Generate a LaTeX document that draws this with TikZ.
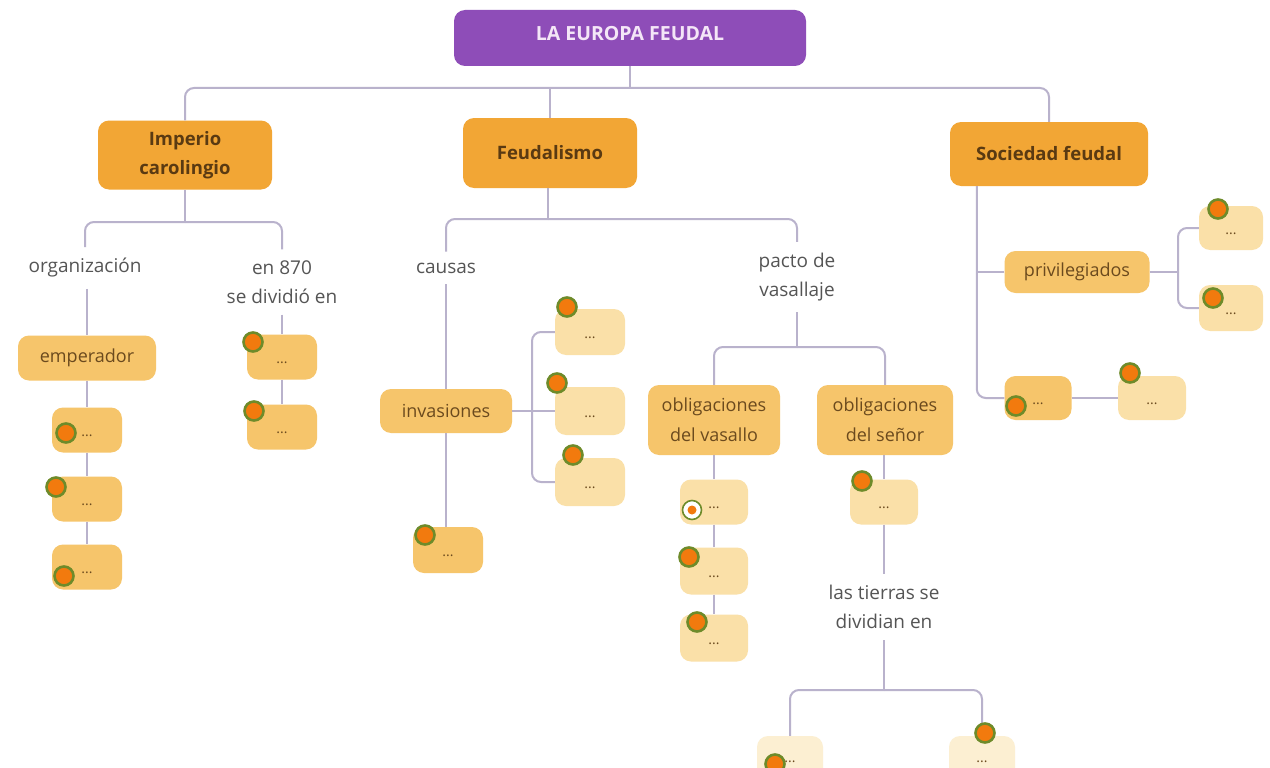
\documentclass[tikz,border=0pt]{standalone}
\usepackage{fontspec}
\setmainfont{Open Sans}
\usetikzlibrary{positioning}
\definecolor{purp}{HTML}{8E4DB8}
\definecolor{titletxt}{HTML}{F4E6F7}
\definecolor{strong}{HTML}{F2A635}
\definecolor{medium}{HTML}{F6C56B}
\definecolor{pale}{HTML}{FAE0A8}
\definecolor{vpale}{HTML}{FCEFD2}
\definecolor{brown}{HTML}{5A3A12}
\definecolor{mbrown}{HTML}{6B4A1E}
\definecolor{lbl}{HTML}{555555}
\definecolor{conn}{HTML}{B9B2CC}
\definecolor{dotfill}{HTML}{F27A0E}
\definecolor{dotline}{HTML}{6E8B2A}
\newcommand{\dd}{\raisebox{-6pt}[0pt][0pt]{...}}
\tikzset{
  x=1pt,y=-1pt,
  box/.style={rounded corners=11pt, inner sep=2pt, align=center, text=mbrown,
     font=\fontsize{18}{30}\selectfont},
  mainbox/.style={box, fill=strong, text=brown, font=\bfseries\fontsize{18.5}{29}\selectfont},
  midbox/.style={box, fill=medium},
  palebox/.style={box, fill=pale},
  vpalebox/.style={box, fill=vpale},
  dotbox/.style={minimum width=70pt, minimum height=45pt, font=\fontsize{14}{14}\selectfont, text=mbrown},
  lab/.style={align=center, text=lbl, inner xsep=4pt, inner ysep=11pt,
     font=\fontsize{19}{29}\selectfont},
  cn/.style={draw=conn, line width=2pt},
  rc/.style={cn, rounded corners=9pt},
  bullet/.style={circle, fill=dotfill, draw=dotline, line width=2.6pt, minimum size=19pt, inner sep=0pt},
}
\begin{document}
\begin{tikzpicture}
\useasboundingbox (0,0) rectangle (1270,768);
\fill[white] (0,0) rectangle (1270,768);

% title
\node[box, fill=purp, text=titletxt, minimum width=352pt, minimum height=56pt,
  font=\bfseries\fontsize{19.5}{22}\selectfont] (title) at (630,38) {\raisebox{-2pt}[0pt][0pt]{LA EUROPA FEUDAL}};

% level 1
\node[mainbox, minimum width=174pt, minimum height=69pt] (imp) at (185,155) {Imperio\\carolingio};
\node[mainbox, minimum width=174pt, minimum height=70pt] (feu) at (550,153) {Feudalismo};
\node[mainbox, minimum width=198pt, minimum height=64pt] (soc) at (1049,154) {Sociedad feudal};

\coordinate (bus) at (630,88);
\draw[cn] (title.south) -- (bus);
\draw[rc] (bus) -| (imp.north);
\draw[rc] (bus) -| (soc.north);
\draw[cn] (feu.north) -- (feu.north |- bus);

% ---- Imperio carolingio
\coordinate (b1) at (185,222);
\node[lab] (org) at (85,268) {organización};
\node[lab] (en) at (282,282) {en 870\\se dividió en};
\draw[cn] (imp.south) -- (b1);
\draw[rc] (b1) -| (org.north);
\draw[rc] (b1) -| (en.north);

\node[midbox, minimum width=138pt, minimum height=45pt] (emp) at (87,358) {emperador};
\node[midbox, dotbox] (e1) at (87,430) {\dd};
\node[midbox, dotbox] (e2) at (87,499) {\dd};
\node[midbox, dotbox] (e3) at (87,567) {\dd};
\draw[cn] (org.south -| emp) -- (emp.north);
\draw[cn] (emp.south) -- (e1.north);
\draw[cn] (e1.south) -- (e2.north);
\draw[cn] (e2.south) -- (e3.north);

\node[midbox, dotbox] (d1) at (282,357) {\dd};
\node[midbox, dotbox] (d2) at (282,427) {\dd};
\draw[cn] (en.south) -- (d1.north);
\draw[cn] (d1.south) -- (d2.north);

% ---- Feudalismo
\coordinate (b2) at (548,219);
\node[lab] (cau) at (446,268) {causas};
\node[lab] (pac) at (797,277) {pacto de\\vasallaje};
\draw[cn] (feu.south -| b2) -- (b2);
\draw[rc] (b2) -| (cau.north);
\draw[rc] (b2) -| (pac.north);

\node[midbox, minimum width=132pt, minimum height=44pt] (inv) at (446,411) {invasiones};
\node[midbox, dotbox, minimum height=46pt] (i4) at (448,550) {\dd};
\draw[cn] (cau.south) -- (inv.north);
\draw[cn] (inv.south) -- (inv.south |- i4.north);

\node[palebox, dotbox, minimum height=46pt] (i1) at (590,332) {\dd};
\node[palebox, dotbox, minimum height=48pt] (i2) at (590,411) {\dd};
\node[palebox, dotbox, minimum height=48pt] (i3) at (590,482) {\dd};
\coordinate (br1) at (532,411);
\draw[cn] (inv.east) -- (i2.west);
\draw[rc] (br1) |- (i1.west);
\draw[rc] (br1) |- (i3.west);

\coordinate (b3) at (797,347);
\node[midbox, minimum width=132pt, minimum height=70pt] (vas) at (714,420) {obligaciones\\del vasallo};
\node[midbox, minimum width=136pt, minimum height=70pt] (sen) at (885,420) {obligaciones\\del señor};
\draw[cn] (pac.south) -- (b3);
\draw[rc] (b3) -| (vas.north);
\draw[rc] (b3) -| (sen.north);

\node[palebox, dotbox, minimum width=68pt] (v1) at (714,502) {\dd};
\node[palebox, dotbox, minimum width=68pt, minimum height=47pt] (v2) at (714,571) {\dd};
\node[palebox, dotbox, minimum width=68pt, minimum height=47pt] (v3) at (714,638) {\dd};
\draw[cn] (vas.south) -- (v1.north);
\draw[cn] (v1.south) -- (v2.north);
\draw[cn] (v2.south) -- (v3.north);

\node[palebox, dotbox, minimum width=68pt] (s1) at (884,502) {\dd};
\node[lab] (tie) at (884,607) {las tierras se\\dividian en};
\draw[cn] (sen.south -| s1) -- (s1.north);
\draw[cn] (s1.south) -- (tie.north);
\coordinate (b4) at (884,690);
\draw[cn] (tie.south) -- (b4);
\node[vpalebox, dotbox, minimum width=66pt, minimum height=52pt] (t1) at (790,762) {...};
\node[vpalebox, dotbox, minimum width=66pt, minimum height=52pt] (t2) at (982,762) {...};
\draw[rc] (b4) -| (t1.north);
\draw[rc] (b4) -| (t2.north);

% ---- Sociedad feudal
\coordinate (sa) at ([xshift=27pt]soc.south west);
\node[midbox, minimum width=145pt, minimum height=42pt] (priv) at (1077,272) {privilegiados};
\node[midbox, dotbox, minimum width=67pt, minimum height=44pt] (so1) at (1038,398) {\dd};
\node[palebox, dotbox, minimum width=68pt, minimum height=44pt] (so2) at (1152,398) {\dd};
\draw[rc] (sa) |- (so1.west);
\draw[cn] (priv.west) -- (priv.west -| sa);
\draw[cn] (so1.east) -- (so2.west);

\node[palebox, dotbox, minimum width=64pt, minimum height=44pt] (p1) at (1231,228) {\dd};
\node[palebox, dotbox, minimum width=64pt, minimum height=46pt] (p2) at (1231,308) {\dd};
\coordinate (br2) at (1178,272);
\draw[cn] (priv.east) -- (br2);
\draw[rc] (br2) |- (p1.west);
\draw[rc] (br2) |- (p2.west);

% ---- markers
\foreach \n/\p in {m1/{(66,433)}, m2/{(56,487)}, m3/{(64,576)}, m4/{(253,342)}, m5/{(254,411)},
  m6/{(425,535)}, m7/{(567,307)}, m8/{(557,383)}, m9/{(573,455)}, m10/{(689,557)},
  m11/{(697,622)}, m12/{(862,481)}, m13/{(775,764)}, m14/{(985,733)}, m15/{(1218,209)},
  m16/{(1213,298)}, m17/{(1016,406)}, m18/{(1130,373)}}
  \node[bullet] (\n) at \p {};
\node[circle, fill=white, draw=dotline, line width=1.6pt, minimum size=19pt, inner sep=0pt] (m0) at (692,510) {};
\node[circle, fill=dotfill, minimum size=9pt, inner sep=0pt] (m0c) at (m0) {};
\end{tikzpicture}
\end{document}
